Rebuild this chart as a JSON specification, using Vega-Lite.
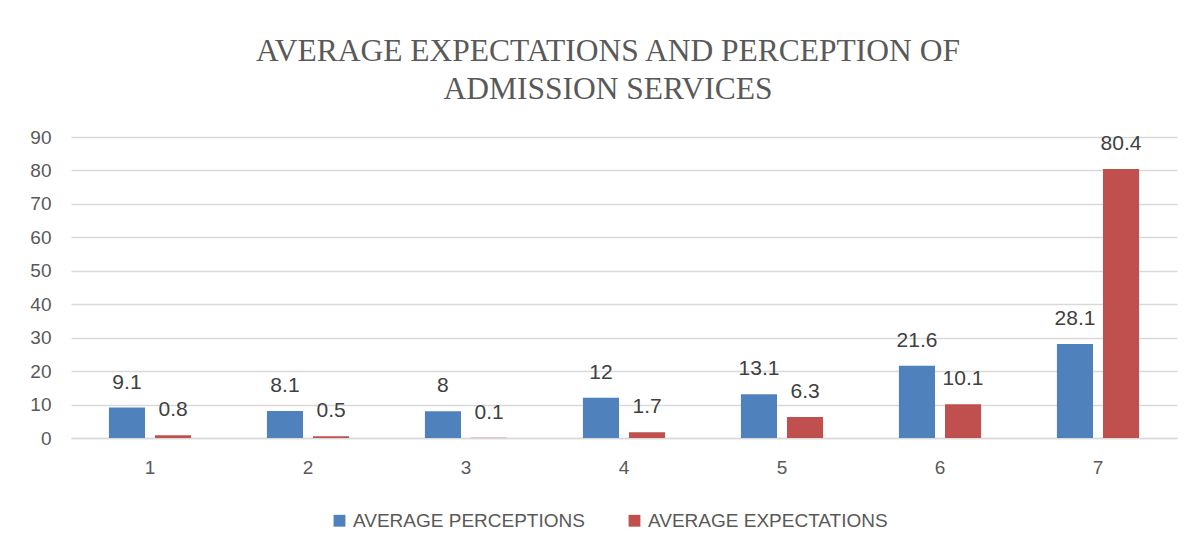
{
  "$schema": "https://vega.github.io/schema/vega-lite/v6.json",
  "width": 1106,
  "height": 301,
  "autosize": {"type": "none"},
  "padding": {"left": 71, "top": 137, "right": 21, "bottom": 113},
  "background": "white",
  "title": {
    "text": ["AVERAGE EXPECTATIONS AND PERCEPTION OF", "ADMISSION SERVICES"],
    "font": "Liberation Serif",
    "fontSize": 31.5,
    "fontWeight": "normal",
    "color": "#595959",
    "lineHeight": 38,
    "anchor": "middle",
    "dx": -16,
    "offset": 23
  },
  "data": {
    "values": [
      {"group": "1", "series": "AVERAGE PERCEPTIONS", "value": 9.1},
      {"group": "1", "series": "AVERAGE EXPECTATIONS", "value": 0.8},
      {"group": "2", "series": "AVERAGE PERCEPTIONS", "value": 8.1},
      {"group": "2", "series": "AVERAGE EXPECTATIONS", "value": 0.5},
      {"group": "3", "series": "AVERAGE PERCEPTIONS", "value": 8},
      {"group": "3", "series": "AVERAGE EXPECTATIONS", "value": 0.1},
      {"group": "4", "series": "AVERAGE PERCEPTIONS", "value": 12},
      {"group": "4", "series": "AVERAGE EXPECTATIONS", "value": 1.7},
      {"group": "5", "series": "AVERAGE PERCEPTIONS", "value": 13.1},
      {"group": "5", "series": "AVERAGE EXPECTATIONS", "value": 6.3},
      {"group": "6", "series": "AVERAGE PERCEPTIONS", "value": 21.6},
      {"group": "6", "series": "AVERAGE EXPECTATIONS", "value": 10.1},
      {"group": "7", "series": "AVERAGE PERCEPTIONS", "value": 28.1},
      {"group": "7", "series": "AVERAGE EXPECTATIONS", "value": 80.4}
    ]
  },
  "encoding": {
    "x": {
      "field": "group",
      "type": "nominal",
      "sort": null,
      "scale": {"paddingInner": 0.48, "paddingOuter": 0.24},
      "axis": {
        "title": null,
        "labelAngle": 0,
        "labelFont": "Liberation Sans",
        "labelFontSize": 19,
        "labelColor": "#595959",
        "labelPadding": 20,
        "ticks": false,
        "domainColor": "#d9d9d9",
        "domainWidth": 1.5
      }
    },
    "xOffset": {
      "field": "series",
      "type": "nominal",
      "sort": ["AVERAGE PERCEPTIONS", "AVERAGE EXPECTATIONS"],
      "scale": {"paddingInner": 0.217, "paddingOuter": 0}
    },
    "y": {
      "field": "value",
      "type": "quantitative",
      "scale": {"domain": [0, 90], "nice": false},
      "axis": {
        "title": null,
        "values": [0, 10, 20, 30, 40, 50, 60, 70, 80, 90],
        "labelFont": "Liberation Sans",
        "labelFontSize": 19,
        "labelColor": "#595959",
        "labelPadding": 20,
        "ticks": false,
        "domain": false,
        "gridColor": "#d9d9d9",
        "gridWidth": 1.5
      }
    }
  },
  "layer": [
    {
      "mark": {"type": "bar"},
      "encoding": {
        "color": {
          "field": "series",
          "type": "nominal",
          "scale": {
            "domain": ["AVERAGE PERCEPTIONS", "AVERAGE EXPECTATIONS"],
            "range": ["#4F81BD", "#C0504D"]
          },
          "legend": {
            "title": null,
            "orient": "none",
            "legendX": 259,
            "legendY": 374,
            "direction": "horizontal",
            "symbolType": "square",
            "symbolSize": 140,
            "symbolStrokeWidth": 0,
            "labelFont": "Liberation Sans",
            "labelFontSize": 19,
            "labelColor": "#595959",
            "columnPadding": 40,
            "labelLimit": 400
          }
        }
      }
    },
    {
      "mark": {
        "type": "text",
        "baseline": "middle",
        "dy": -25,
        "font": "Liberation Sans",
        "fontSize": 21,
        "color": "#404040"
      },
      "encoding": {
        "text": {"field": "value", "type": "nominal"}
      }
    }
  ],
  "config": {
    "view": {"stroke": null}
  }
}
